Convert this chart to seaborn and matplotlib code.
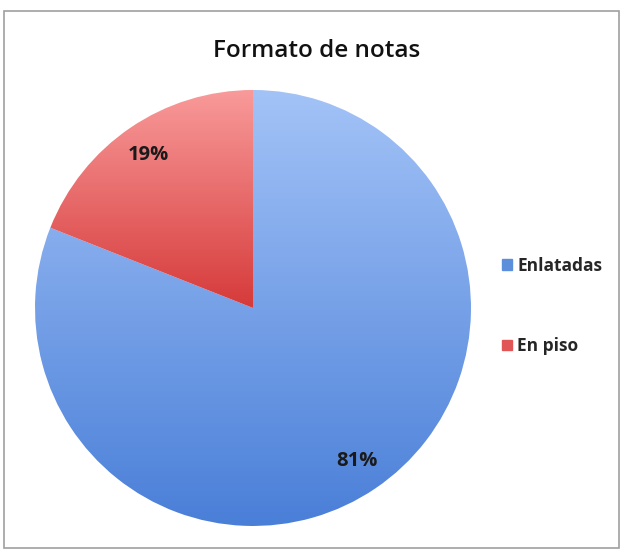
import numpy as np
import matplotlib
matplotlib.use("Agg")
import matplotlib.pyplot as plt
from matplotlib.colors import LinearSegmentedColormap
from matplotlib.patches import Rectangle
import seaborn as sns

# Data
categories = ["Enlatadas", "En piso"]
values = [81, 19]
top_colors = ["#a3c3f7", "#f99a9a"]
bottom_colors = ["#4a7fd8", "#d63a3a"]
legend_colors = ["#5b8fdc", "#e05555"]

sns.set_style("white")
plt.rcParams['font.family'] = ['Open Sans', 'DejaVu Sans']

fig = plt.figure(figsize=(6.24, 5.51), dpi=100)
ax = fig.add_axes([0.0561, 0.0454, 0.6987, 0.7913])

wedges, texts, autotexts = ax.pie(
    values, startangle=90, counterclock=False,
    autopct="%1.0f%%", pctdistance=0.85,
    colors=legend_colors, wedgeprops=dict(linewidth=0),
    textprops=dict(fontsize=14.5, fontweight="bold", color="#1a1a1a"),
)

# vertical gradient inside each wedge
for w, ct, cb in zip(wedges, top_colors, bottom_colors):
    cmap = LinearSegmentedColormap.from_list("g", [cb, ct])
    bb = w.get_path().transformed(w.get_patch_transform()).get_extents()
    grad = np.linspace(0, 1, 256).reshape(-1, 1)
    im = ax.imshow(grad, cmap=cmap, aspect="auto", origin="lower",
                   extent=[bb.x0, bb.x1, bb.y0, bb.y1], zorder=w.get_zorder())
    im.set_clip_path(w)
    w.set_facecolor("none")

for t in autotexts:
    t.set_zorder(5)

ax.set_xlim(-1, 1)
ax.set_ylim(-1, 1)
ax.set_aspect("equal")
ax.axis("off")

fig.suptitle("Formato de notas", x=0.508, y=0.93, fontsize=17.5,
             fontweight="semibold", color="#111111")

handles = [Rectangle((0, 0), 1, 1, color=c) for c in legend_colors]
fig.legend(handles, categories, loc="center left", bbox_to_anchor=(0.78, 0.445),
           frameon=False, handlelength=0.55, handleheight=0.55, handletextpad=0.3,
           labelspacing=3.6, prop=dict(size=12.5, weight="bold"))

fig.add_artist(Rectangle((0.007, 0.006), 0.985, 0.974, transform=fig.transFigure,
                         fill=False, edgecolor="#a0a0a0", linewidth=1.2))

fig.savefig("out.png", dpi=100)
